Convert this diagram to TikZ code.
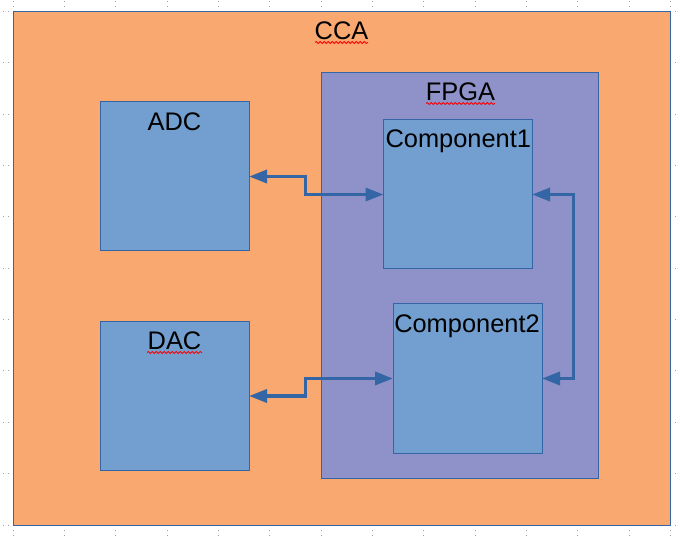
\documentclass[tikz,border=0pt]{standalone}
\usepackage{fontspec}
\setmainfont{Liberation Sans}
\usetikzlibrary{arrows.meta,decorations.pathmorphing}
\definecolor{ccafill}{RGB}{249,168,112}
\definecolor{fpgafill}{RGB}{142,146,200}
\definecolor{boxfill}{RGB}{114,159,207}
\definecolor{boxline}{RGB}{52,101,164}
\definecolor{gridgray}{RGB}{160,160,160}
\begin{document}
\begin{tikzpicture}[x=1pt,y=-1pt,
  box/.style={draw=boxline, line width=1pt, fill=boxfill, inner sep=0pt, outer sep=0pt},
  lbl/.style={anchor=base, inner sep=0pt, font=\fontsize{25.4}{30}\selectfont},
  link/.style={draw=boxline, line width=3.3pt, {Triangle[length=18pt,width=13pt]}-{Triangle[length=18pt,width=13pt]}},
  spell/.style={draw=red, line width=0.8pt, decorate, decoration={snake, segment length=4pt, amplitude=1pt}},
  gdot/.style={fill=gridgray}]
\useasboundingbox[fill=white] (0,0) rectangle (680,537);
% background grid marks
\foreach \j in {0,...,10}{
  \foreach \xx in {13,64.33,115.67,167,218.33,269.67,321,372.33,423.67,475,526.33,577.67,629,670.5}{
    \pgfmathsetmacro\yy{11.5+51.35*\j}
    \foreach \d in {0,5,10}{
      \fill[gdot] (\xx+\d-0.5,\yy-0.5) rectangle ++(1,1);
      \fill[gdot] (\xx-\d-0.5,\yy-0.5) rectangle ++(1,1);
      \fill[gdot] (\xx-0.5,\yy+\d-0.5) rectangle ++(1,1);
      \fill[gdot] (\xx-0.5,\yy-\d-0.5) rectangle ++(1,1);
    }
  }
}
% boxes
\node[box, fill=ccafill, minimum width=657.5pt, minimum height=513.5pt] (cca) at (341.75,268.25) {};
\node[box, fill=fpgafill, minimum width=277pt, minimum height=405pt] (fpga) at (459.5,275.5) {};
\node[box, minimum width=149pt, minimum height=149pt] (adc) at (174.5,176.5) {};
\node[box, minimum width=149pt, minimum height=148pt] (dac) at (174.5,396) {};
\node[box, minimum width=148.5pt, minimum height=149pt] (c1) at (457.75,194.5) {};
\node[box, minimum width=149pt, minimum height=149pt] (c2) at (467.5,378.5) {};
% labels
\node[lbl] (ccat) at (341.5,39.3) {CCA};
\node[lbl] (fpgat) at (460.5,101) {FPGA};
\node[lbl] (adct) at (174.5,130.3) {ADC};
\node[lbl] (dact) at (174.5,349.3) {DAC};
\node[lbl] (c1t) at (458.3,147.3) {Component1};
\node[lbl] (c2t) at (467,332.3) {Component2};
% spell-check marks
\draw[spell] (315,42.5) -- (368,42.5);
\draw[spell] (426,103.5) -- (495,103.5);
\draw[spell] (147,352.5) -- (202,352.5);
% connectors
\coordinate (mx) at (305.7,0);
\coordinate (rx) at (573.3,0);
\draw[link] (adc.east) -- (adc.east -| mx) -- (c1.west -| mx) -- (c1.west);
\draw[link] (dac.east) -- (dac.east -| mx) -- (c2.west -| mx) -- (c2.west);
\draw[link] (c1.east) -- (c1.east -| rx) -- (c2.east -| rx) -- (c2.east);
\end{tikzpicture}
\end{document}
